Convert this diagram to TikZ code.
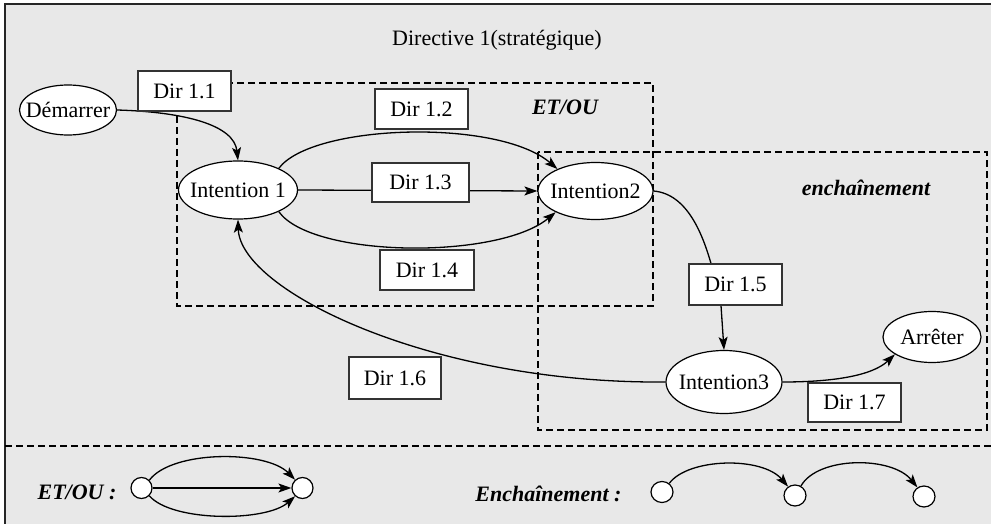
\documentclass[tikz,border=0pt]{standalone}
\usepackage{fontspec}
\setmainfont{Liberation Serif}
\usetikzlibrary{arrows.meta,shapes.geometric}

\pgfdeclarelayer{panel}
\pgfdeclarelayer{wires}
\pgfsetlayers{panel,wires,main}

\tikzset{
  frame/.style={line width=1.4pt, draw=black!85},
  group/.style={draw=black, line width=1.6pt, dash pattern=on 7pt off 4pt},
  caption/.style={font=\fontsize{22}{24}\selectfont, inner sep=0pt},
  state/.style={ellipse, draw=black, line width=1.2pt, fill=white, inner sep=0pt},
  dirbox/.style={rectangle, draw=black!80, line width=1.1pt, fill=white, inner sep=0pt,
    minimum width=93pt, minimum height=40pt, font=\fontsize{22}{24}\selectfont},
  dot/.style={ellipse, draw=black, line width=1.2pt, fill=white, inner sep=0pt,
    minimum width=21pt, minimum height=21pt},
  link/.style={draw=black, line width=1.3pt},
  flow/.style={link, -{Stealth[length=13pt, width=9pt, inset=3pt]}},
  tag/.style={font=\fontsize{22}{24}\selectfont\bfseries\itshape, inner sep=0pt}
}

\begin{document}
\begin{tikzpicture}[x=1pt, y=-1pt]
  \useasboundingbox (0,0) rectangle (991,524);

  \begin{pgfonlayer}{panel}
    % background panel
    \fill[black!9] (5,4) rectangle (991,524);
    \draw[frame] (991,4) -- (5,4) -- (5,524);
    % legend separator
    \draw[group] (5,446) -- (991,446);
    % grouping boxes
    \draw[group] (177,83) rectangle (653,306);
    \draw[group] (538,152) rectangle (987,430);
  \end{pgfonlayer}

  % labels
  \node[caption] (title) at (497,40) {Directive 1(stratégique)};
  \node[tag] (etou) at (565,107) {ET/OU};
  \node[tag] (ench) at (866,188) {enchaînement};

  % states (fixed size; the text is a centred label)
  \node[state, minimum width=97pt, minimum height=50pt,
        label={[caption]center:Démarrer}] (dem) at (68,110) {};
  \node[state, minimum width=119pt, minimum height=58pt,
        label={[caption]center:Intention 1}] (int1) at (238,190) {};
  \node[state, minimum width=115pt, minimum height=57pt,
        label={[caption]center:Intention2}] (int2) at (595.5,191) {};
  \node[state, minimum width=116pt, minimum height=63pt,
        label={[caption]center:Intention3}] (int3) at (724,382) {};
  \node[state, minimum width=98pt, minimum height=51pt,
        label={[caption]center:Arrêter}] (arr) at (932,337) {};

  % directive labels
  \node[dirbox] (d11) at (184.5,91) {Dir 1.1};
  \node[dirbox] (d12) at (421.5,109) {Dir 1.2};
  \node[dirbox, minimum width=97pt, minimum height=39pt] (d13) at (420.5,182.5) {Dir 1.3};
  \node[dirbox, minimum width=94pt] (d14) at (427,270) {Dir 1.4};
  \node[dirbox, minimum height=41pt] (d15) at (735.5,284.5) {Dir 1.5};
  \node[dirbox, minimum width=92pt, minimum height=42pt] (d16) at (395,378) {Dir 1.6};
  \node[dirbox, minimum height=39pt] (d17) at (854.5,402.5) {Dir 1.7};

  % transitions
  \coordinate (d15in) at ([xshift=-24.5pt]d15.north);
  \coordinate (d15out) at ([xshift=-14.5pt]d15.south);

  \begin{pgfonlayer}{wires}
    \path[flow] (dem.east) .. controls (185,112) and (234,125) .. (int1.north);
    \path[flow] (int1.28) .. controls (312,124) and (498,118) .. (int2.150);
    \path[flow] (int1.east) -- (int2.west);
    \path[flow] (int1.-28) .. controls (312,258) and (498,260) .. (int2.-152);
    \path[link] (int2.east) .. controls (688,194) and (703,236) .. (d15in);
    \path[flow] (d15out) -- (int3.north);
    \path[flow] (int3.west) .. controls (430,384) and (240,290) .. (int1.south);
    \path[flow] (int3.east) .. controls (832,382) and (872,376) .. (arr.205);
  \end{pgfonlayer}

  % legend: ET/OU
  \node[tag] (lg1) at (77,492) {ET/OU :};
  \node[dot] (e1) at (141.5,488) {};
  \node[dot] (e2) at (302.5,488) {};
  \path[flow] (e1.east) -- (e2.west);
  \path[flow] (e1.45) .. controls (172,450) and (266,450) .. (e2.132);
  \path[flow] (e1.-45) .. controls (172,522) and (266,522) .. (e2.-132);

  % legend: Enchainement
  \node[tag] (lg2) at (548.5,494) {Enchaînement :};
  \node[dot, minimum width=22pt] (c1) at (662,492) {};
  \node[dot, minimum width=22pt] (c2) at (795,495.5) {};
  \node[dot, minimum width=22pt] (c3) at (924,496.5) {};
  \path[flow] (c1.50) .. controls (688,458) and (762,456) .. (c2.128);
  \path[flow] (c2.58) .. controls (818,456) and (892,456) .. (c3.126);
\end{tikzpicture}
\end{document}
